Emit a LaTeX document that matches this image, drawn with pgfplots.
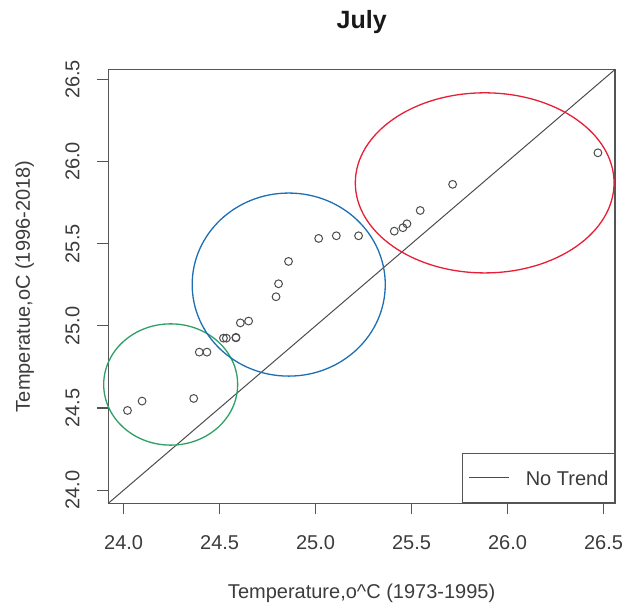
\documentclass[border=0pt]{standalone}
\usepackage{pgfplots}
\pgfplotsset{compat=1.18}
\usepackage{pgfplotstable}
\usepackage{fontspec}
\setmainfont{Liberation Sans}

\definecolor{txt}{RGB}{60,60,60}
\definecolor{frame}{RGB}{85,85,85}
\definecolor{grp1}{RGB}{45,160,100}
\definecolor{grp2}{RGB}{30,110,180}
\definecolor{grp3}{RGB}{232,30,55}

% July mean temperature: sorted 1973-1995 values against sorted 1996-2018 values
\pgfplotstableread{
x       y
24.020  24.485
24.096  24.542
24.365  24.558
24.394  24.840
24.434  24.840
24.520  24.925
24.535  24.925
24.585  24.927
24.585  24.930
24.608  25.018
24.651  25.029
24.794  25.177
24.807  25.256
24.859  25.392
25.016  25.532
25.108  25.548
25.224  25.548
25.410  25.576
25.455  25.597
25.476  25.621
25.545  25.702
25.714  25.861
26.471  26.053
}\julytemps

\newcommand\lbl{\fontsize{20}{24}\selectfont}

\begin{document}
\begin{tikzpicture}
\path[use as bounding box] (-108.3pt,-105.7pt) rectangle (517.7pt,503.3pt);
\begin{axis}[
  at={(0,0)}, anchor=south west,
  scale only axis, width=506.7pt, height=433.8pt,
  xmin=23.92, xmax=26.56, ymin=23.92, ymax=26.56,
  clip=false,
  axis line style={line width=1.2pt, draw=frame},
  xtick={24,24.5,25,25.5,26,26.5},
  ytick={24,24.5,25,25.5,26,26.5},
  tick align=outside, xtick pos=bottom, ytick pos=left,
  major tick length=11pt,
  tick style={line width=1.1pt, draw=frame},
  /pgf/number format/fixed,
  /pgf/number format/fixed zerofill,
  /pgf/number format/precision=1,
  /pgf/number format/assume math mode=true,
  xticklabel style={font=\lbl, text=txt, anchor=center, yshift=-28pt},
  yticklabel style={font=\lbl, text=txt, rotate=90, anchor=center, yshift=24.8pt},
  title={\fontsize{25}{29}\selectfont\bfseries July},
  title style={at={(axis description cs:0.5,1)}, anchor=base, yshift=34.5pt, text=black!90},
  xlabel={Temperature,o\textasciicircum C (1973-1995)},
  ylabel={Temperatue,oC (1996-2018)},
  xlabel style={font=\lbl, text=txt, at={(axis description cs:0.5,0)}, anchor=base, yshift=-95.7pt},
  ylabel style={font=\lbl, text=txt, at={(axis description cs:0,0.5)}, anchor=base, yshift=78.3pt},
  legend style={at={(1,0)}, anchor=south east, draw=frame, line width=1.2pt,
    font=\lbl, text=txt, inner xsep=6pt, inner ysep=17.5pt,
    nodes={inner sep=0pt, text height=14.5pt, text depth=0pt}},
  legend cell align=left,
  legend image code/.code={\draw[#1, line width=1pt] (0pt,0pt) -- (40pt,0pt);
    \path (56.3pt,0pt);},
]
\addplot[only marks, mark=o, mark size=3.9pt,
  mark options={line width=1pt, draw=black!70}, forget plot]
  table[x=x, y=y] {\julytemps};

\addplot[black!70, line width=1pt] coordinates {(23.92,23.92) (26.56,26.56)};
\addlegendentry{No Trend\hspace{3pt}}

\draw[grp1, line width=1.3pt] (axis cs:24.245,24.643) ellipse [x radius=0.349, y radius=0.369];
\draw[grp2, line width=1.3pt] (axis cs:24.860,25.251) ellipse [x radius=0.503, y radius=0.557];
\draw[grp3, line width=1.3pt] (axis cs:25.881,25.870) ellipse [x radius=0.674, y radius=0.548];
\end{axis}
\end{tikzpicture}
\end{document}
